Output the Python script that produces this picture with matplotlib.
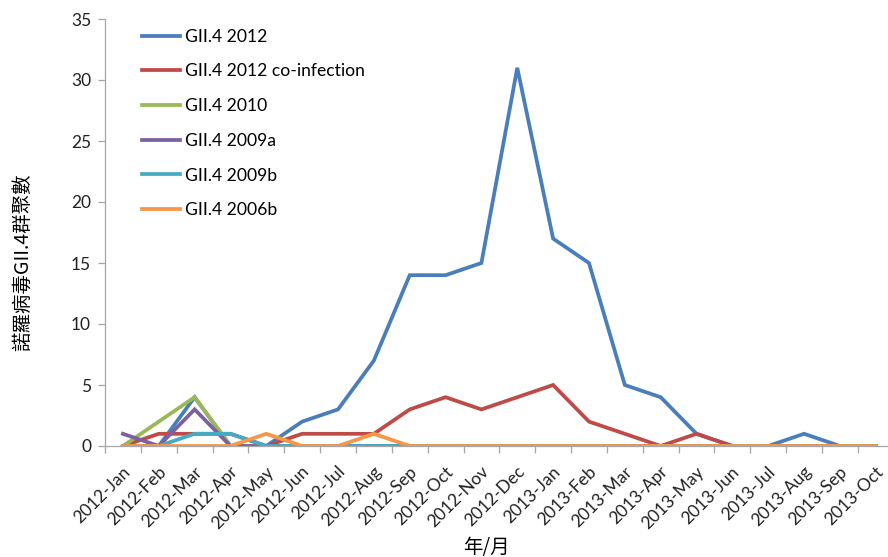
import matplotlib
matplotlib.use("Agg")
import matplotlib.pyplot as plt
import matplotlib.transforms as mtransforms
import numpy as np

plt.rcParams['font.family'] = ['Lato', 'Noto Sans CJK TC', 'DejaVu Sans']

months = ["2012-Jan", "2012-Feb", "2012-Mar", "2012-Apr", "2012-May", "2012-Jun",
          "2012-Jul", "2012-Aug", "2012-Sep", "2012-Oct", "2012-Nov", "2012-Dec",
          "2013-Jan", "2013-Feb", "2013-Mar", "2013-Apr", "2013-May", "2013-Jun",
          "2013-Jul", "2013-Aug", "2013-Sep", "2013-Oct"]

gii4_2012 = [0, 0, 4, 0, 0, 2, 3, 7, 14, 14, 15, 31, 17, 15, 5, 4, 1, 0, 0, 1, 0, 0]
gii4_2012_coinf = [0, 1, 1, 1, 0, 1, 1, 1, 3, 4, 3, 4, 5, 2, 1, 0, 1, 0, 0, 0, 0, 0]
gii4_2010 = [0, 2, 4, 0, 0, 0, 0, 0, 0, 0, 0, 0, 0, 0, 0, 0, 0, 0, 0, 0, 0, 0]
gii4_2009a = [1, 0, 3, 0, 0, 0, 0, 0, 0, 0, 0, 0, 0, 0, 0, 0, 0, 0, 0, 0, 0, 0]
gii4_2009b = [0, 0, 1, 1, 0, 0, 0, 0, 0, 0, 0, 0, 0, 0, 0, 0, 0, 0, 0, 0, 0, 0]
gii4_2006b = [0, 0, 0, 0, 1, 0, 0, 1, 0, 0, 0, 0, 0, 0, 0, 0, 0, 0, 0, 0, 0, 0]

series = [
    ("GII.4 2012", gii4_2012, "#4A7EBB"),
    ("GII.4 2012 co-infection", gii4_2012_coinf, "#BE4B48"),
    ("GII.4 2010", gii4_2010, "#98B954"),
    ("GII.4 2009a", gii4_2009a, "#7D60A0"),
    ("GII.4 2009b", gii4_2009b, "#46AAC5"),
    ("GII.4 2006b", gii4_2006b, "#F79646"),
]

W, H = 888, 557
fig = plt.figure(figsize=(W / 100, H / 100), dpi=100)
left, right, top, bottom = 105, 893.7, 19, 446
ax = fig.add_axes([left / W, (H - bottom) / H, (right - left) / W, (bottom - top) / H])

x = np.arange(len(months))
for name, vals, col in series:
    ax.plot(x, vals, color=col, lw=2.7, label=name, solid_joinstyle='miter')

ax.set_xlim(-0.5, len(months) - 0.5)
ax.set_ylim(0, 35)
ax.set_yticks(np.arange(0, 36, 5))

spine_col = "#A6A6A6"
for s in ["top", "right"]:
    ax.spines[s].set_visible(False)
for s in ["left", "bottom"]:
    ax.spines[s].set_color(spine_col)
    ax.spines[s].set_linewidth(0.9)

ax.tick_params(axis='y', direction='out', length=5, width=0.9, color=spine_col,
               labelsize=12.5, pad=5, labelcolor='#222222')

# category labels at the centres, tick marks at the boundaries
ax.set_xticks(x)
ax.set_xticks(np.arange(-0.5, len(months), 1.0), minor=True)
ax.tick_params(axis='x', which='major', length=0, pad=12.5, labelsize=12.5, labelcolor='#222222')
ax.tick_params(axis='x', which='minor', direction='out', length=5, width=0.9, color=spine_col)
ax.set_xticklabels(months, rotation=45, ha='right', va='top', rotation_mode='anchor')
shift = mtransforms.ScaledTranslation(-1 / 100, 0, fig.dpi_scale_trans)
for lbl in ax.get_xticklabels():
    lbl.set_transform(lbl.get_transform() + shift)

ax.set_xlabel("年/月", fontsize=14, family=['Noto Sans CJK TC'])
ax.xaxis.set_label_coords((486 - left) / (right - left), (bottom - 548) / (bottom - top))
ax.xaxis.label.set_va('center')
ax.set_ylabel("諾羅病毒GII.4群聚數", fontsize=14, family=['Noto Sans CJK TC'])
ax.yaxis.set_label_coords((22 - left) / (right - left), (bottom - 262) / (bottom - top))
ax.yaxis.label.set_va('center')

leg = ax.legend(loc='upper left', bbox_to_anchor=((132 - left) / (right - left), 1.0),
                frameon=False, fontsize=12.6, handlelength=2.2, handletextpad=0.3,
                labelspacing=1.07, borderaxespad=0.15)
for line in leg.get_lines():
    line.set_linewidth(2.7)

fig.savefig("out.png", dpi=100)
